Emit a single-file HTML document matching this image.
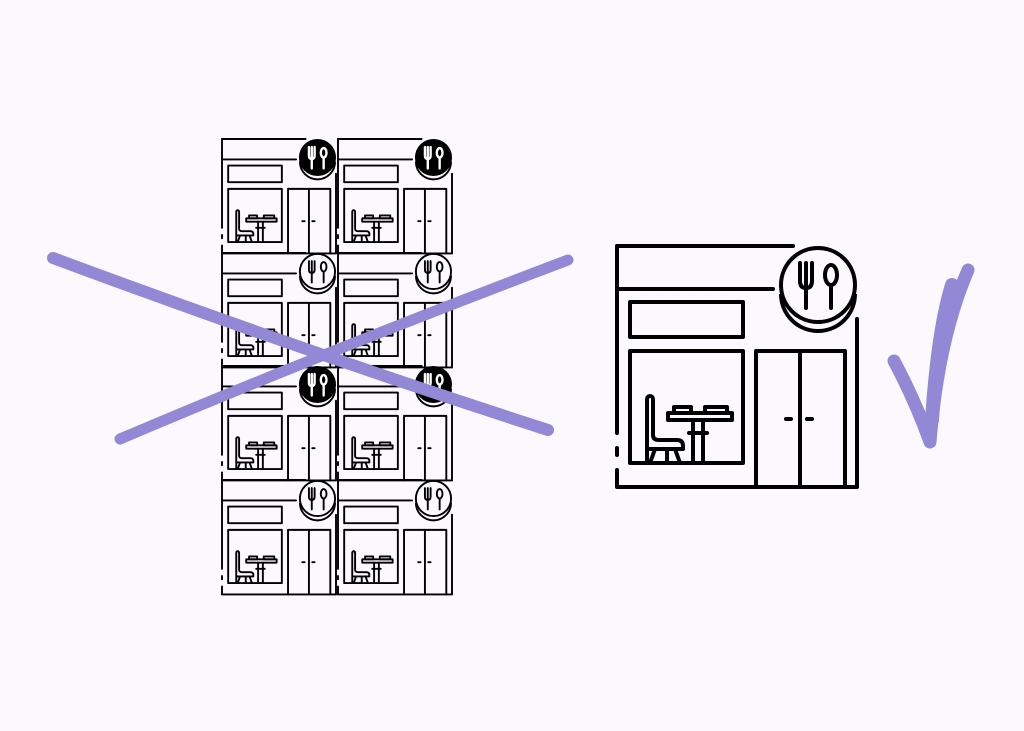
<!DOCTYPE html>
<html><head><meta charset="utf-8"><style>
html,body{margin:0;padding:0;background:#fbf9fe;}
svg{display:block}
</style></head><body>
<svg width="1024" height="731" viewBox="0 0 1024 731" xmlns="http://www.w3.org/2000/svg">
<defs>
<g id="base" fill="none" stroke="#000" stroke-width="4" stroke-linecap="round" stroke-linejoin="round">
  <path d="M0 0 H176 M0 43 H156"/>
  <path d="M0 0 V187 M0 202 V209 M0 224 V241 H240 M240 73 V241"/>
  <rect x="13" y="56" width="113" height="35"/>
  <rect x="13" y="105" width="113" height="112"/>
  <path d="M139 241 V105 H228 V241 M183 105 V241"/>
  <path d="M169 173 H174 M190 173 H195"/>
  <path d="M30 217 V153 a3 3 0 0 1 6 0 V189 Q36 194 42 194 H60 Q66 194 66 200 V203 H30 M38 203 L33 217 M50 203 V217 M58 203 L63 217"/>
  <rect x="51" y="167" width="64" height="7"/>
  <rect x="57" y="161" width="17" height="6"/>
  <rect x="88" y="161" width="22" height="6"/>
  <path d="M76 174 V217 M86 174 V217 M72 187 H90"/>
</g>
<g id="uteB" fill="none" stroke="#000" stroke-width="4" stroke-linecap="round">
  <path d="M183 17 V35 Q183 42 189 42 Q195 42 195 35 V17 M189 17 V62"/>
  <ellipse cx="214" cy="29" rx="6" ry="10"/>
  <path d="M214 39 V62"/>
</g>
<g id="uteW" fill="none" stroke="#fff" stroke-width="5" stroke-linecap="round">
  <path d="M183 17 V35 Q183 42 189 42 Q195 42 195 35 V17 M189 17 V62"/>
  <ellipse cx="214" cy="29" rx="6" ry="10"/>
  <path d="M214 39 V62"/>
</g>
<g id="circO">
  <path d="M164 48 A37 37 0 0 0 238 48" fill="none" stroke="#000" stroke-width="4"/>
  <circle cx="201" cy="39" r="37" fill="#fbf9fe" stroke="#000" stroke-width="4"/>
  <use href="#uteB"/>
</g>
<g id="circF">
  <path d="M164 48 A37 37 0 0 0 238 48" fill="none" stroke="#000" stroke-width="4"/>
  <circle cx="201" cy="39" r="39" fill="#000"/>
  <use href="#uteW"/>
</g>
<g id="iO"><use href="#base"/><use href="#circO"/></g>
<g id="iF"><use href="#base"/><use href="#circF"/></g>
</defs>

<use href="#iF" transform="translate(222,139) scale(0.475)"/>
<use href="#iF" transform="translate(338,139) scale(0.475)"/>
<use href="#iO" transform="translate(222,253) scale(0.475)"/>
<use href="#iO" transform="translate(338,253) scale(0.475)"/>
<use href="#iF" transform="translate(222,366) scale(0.475)"/>
<use href="#iF" transform="translate(338,366) scale(0.475)"/>
<use href="#iO" transform="translate(222,480) scale(0.475)"/>
<use href="#iO" transform="translate(338,480) scale(0.475)"/>

<use href="#iO" transform="translate(617,246)"/>

<g stroke="#9388d6" stroke-linecap="round" fill="none">
  <path d="M53 258 Q300 350 548 430" stroke-width="12"/>
  <path d="M120 439 Q330 350 568 260" stroke-width="11"/>
  <path d="M894 361 Q915 400 930 442 Q938 340 968 270" stroke-width="13" stroke-linejoin="round"/>
  <path d="M932 420 Q938 330 952 285" stroke-width="14"/>
</g>
</svg>
</body></html>
